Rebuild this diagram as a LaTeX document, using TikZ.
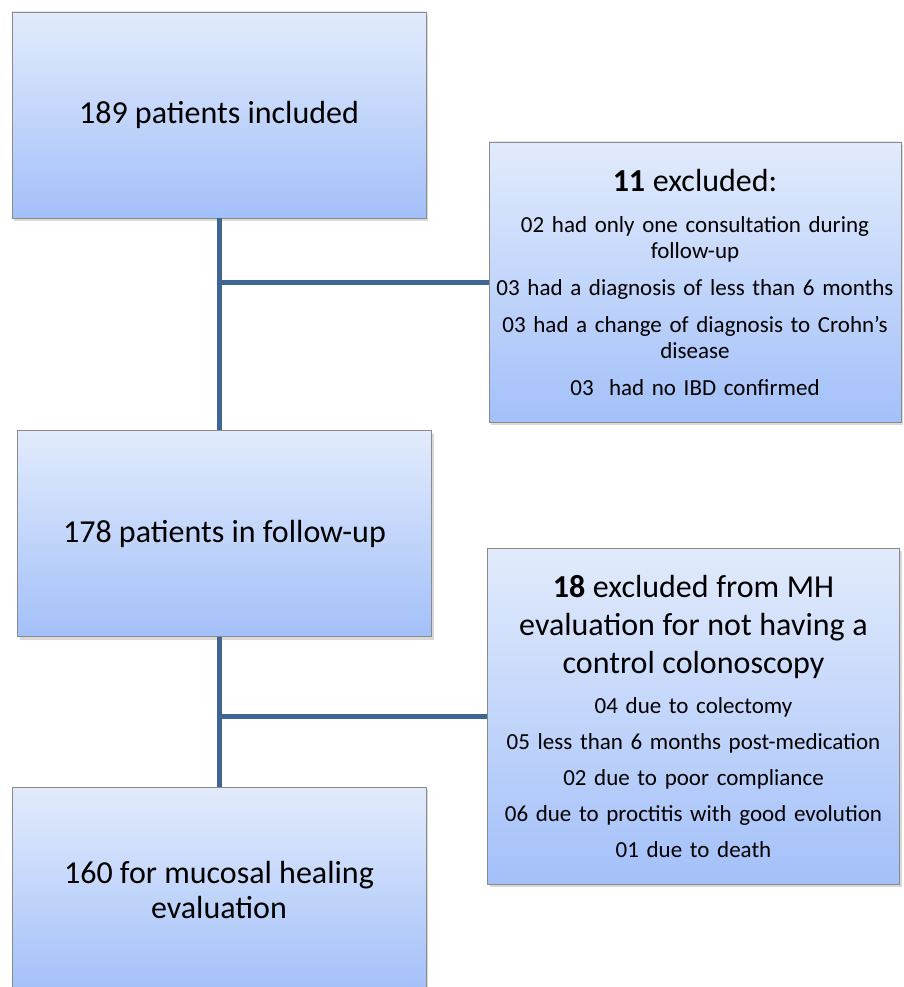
\documentclass[tikz,border=0pt]{standalone}
\usepackage{fontspec}
\setmainfont{Carlito}
\usetikzlibrary{shadows,positioning}
\definecolor{box-top}{RGB}{226,235,252}
\definecolor{box-bottom}{RGB}{163,192,249}
\definecolor{box-edge}{RGB}{138,138,138}
\definecolor{link-blue}{RGB}{63,101,147}
\newcommand{\boxhead}{\fontsize{32}{38}\selectfont}

\begin{document}
\begin{tikzpicture}[x=1pt,y=-1pt]

\tikzstyle{stage}=[rectangle, draw=box-edge, line width=0.8pt, top color=box-top, bottom color=box-bottom, minimum width=414pt, minimum height=206pt, inner sep=0pt, align=center, font=\fontsize{32}{35}\selectfont, drop shadow={shadow xshift=2pt, shadow yshift=-3pt, opacity=0.3}]
\tikzstyle{excl}=[stage, minimum width=412pt, text width=408pt, font=\fontsize{23}{26}\selectfont]
\tikzstyle{link}=[draw=link-blue, line width=5pt]

\useasboundingbox (0,0) rectangle (904,987);

\node[stage] (incl) at (219,115) {189 patients included};
\node[stage] (follow) at (224.5,533.5) {178 patients in follow-up};
\node[stage, minimum height=205pt] (heal) at (219,889.5) {160 for mucosal healing\\evaluation};

\node[excl, minimum height=280pt] (excl1) at (695,282) {{\boxhead\textbf{11} excluded:\par}\vspace{15pt}
02 had only one consultation during\\follow-up\\[11pt]
03 had a diagnosis of less than 6 months\\[11pt]
03 had a change of diagnosis to Crohn’s\\disease\\[11pt]
03~ had no IBD confirmed};

\node[excl, minimum height=336pt] (excl2) at (693.5,716) {{\boxhead\textbf{18} excluded from MH\\evaluation for not having a\\control colonoscopy\par}\vspace{14pt}
04 due to colectomy\\[10pt]
05 less than 6 months post-medication\\[10pt]
02 due to poor compliance\\[10pt]
06 due to proctitis with good evolution\\[10pt]
01 due to death};

\coordinate (j1) at (incl.south |- excl1.west);
\coordinate (j2) at (incl.south |- excl2.west);

% connectors
\draw[link] (incl.south) -- (incl.south |- follow.north);
\draw[link] (j1) -- (excl1.west);
\draw[link] (incl.south |- follow.south) -- (incl.south |- heal.north);
\draw[link] (j2) -- (excl2.west);

\end{tikzpicture}
\end{document}
